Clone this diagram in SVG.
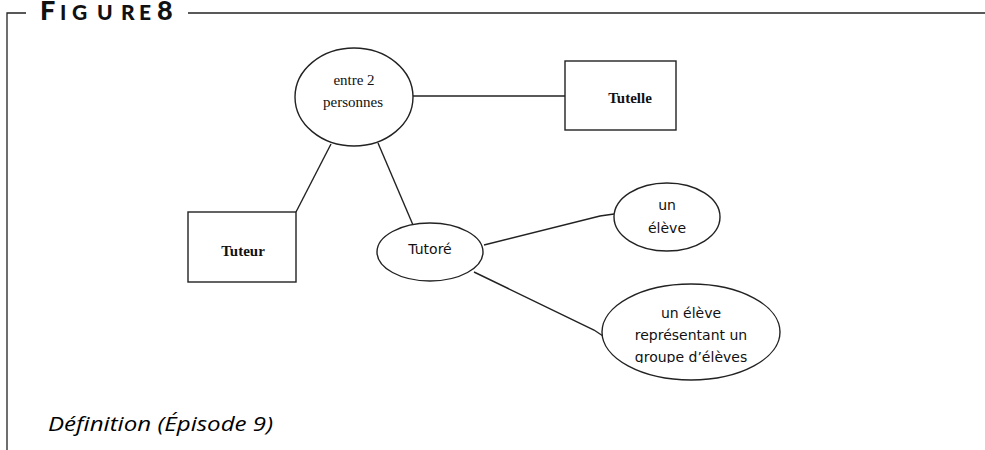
<svg xmlns="http://www.w3.org/2000/svg" width="985" height="450" viewBox="0 0 985 450">
  <style>
    .frame { stroke: #222; stroke-width: 1.3; fill: none; }
    .shape { fill: #fff; stroke: #222; stroke-width: 1.4; }
    .edge { stroke: #222; stroke-width: 1.4; fill: none; }
    .serif { font-family: "Liberation Serif", "Times New Roman", serif; font-size: 15px; fill: #111; text-anchor: middle; }
    .bold { font-weight: bold; }
    .sans { font-family: "DejaVu Sans", "Liberation Sans", sans-serif; font-size: 14px; fill: #111; text-anchor: middle; }
    .title { font-family: "Lato", "Open Sans", sans-serif; font-weight: 900; fill: #111; }
    .caption { font-family: "Open Sans", "Lato", sans-serif; font-style: italic; font-size: 20px; fill: #000; }
  </style>
  <defs>
    <clipPath id="cut-bottom">
      <rect x="600" y="280" width="185" height="83"/>
    </clipPath>
  </defs>

  <!-- figure frame -->
  <g id="frame">
    <path class="frame" d="M7,450 V13 H26"/>
    <path class="frame" d="M188,13 H985"/>
    <text class="title" y="20"><tspan x="40" font-size="27">F</tspan><tspan font-size="21" x="60">I</tspan><tspan font-size="21" x="72">G</tspan><tspan font-size="21" x="97">U</tspan><tspan font-size="21" x="121">R</tspan><tspan font-size="21" x="139">E</tspan><tspan font-size="27" x="157">8</tspan></text>
  </g>

  <!-- connectors -->
  <g id="connectors">
    <line class="edge" x1="413" y1="96" x2="565" y2="96"/>
    <line class="edge" x1="296" y1="212" x2="331" y2="144"/>
    <line class="edge" x1="413" y1="225" x2="378" y2="143"/>
    <polyline class="edge" points="484,245 600,216 614,214"/>
    <polyline class="edge" points="474,272 594,330 603,336"/>
  </g>

  <g id="node-entre">
    <ellipse class="shape" cx="354" cy="97" rx="59" ry="49"/>
    <text class="serif" x="354" y="85">entre 2</text>
    <text class="serif" x="353" y="107">personnes</text>
  </g>

  <g id="node-tutelle">
    <rect class="shape" x="565" y="61" width="111" height="69"/>
    <text class="serif bold" x="630" y="103">Tutelle</text>
  </g>

  <g id="node-tuteur">
    <rect class="shape" x="188" y="212" width="108" height="70"/>
    <text class="serif bold" x="243" y="256">Tuteur</text>
  </g>

  <g id="node-tutore">
    <ellipse class="shape" cx="430" cy="252" rx="53" ry="29"/>
    <text class="sans" x="430" y="254">Tutoré</text>
  </g>

  <g id="node-eleve">
    <ellipse class="shape" cx="667" cy="217" rx="53" ry="34"/>
    <text class="sans" x="667" y="210">un</text>
    <text class="sans" x="667" y="233">élève</text>
  </g>

  <g id="node-groupe">
    <ellipse class="shape" cx="691" cy="332" rx="89" ry="48"/>
    <text class="sans" x="691" y="318">un élève</text>
    <text class="sans" x="691" y="340">représentant un</text>
    <text class="sans" x="691" y="362" clip-path="url(#cut-bottom)">groupe d’élèves</text>
  </g>

  <text class="caption" x="48" y="431" textLength="225" lengthAdjust="spacingAndGlyphs">Définition (Épisode 9)</text>
</svg>
